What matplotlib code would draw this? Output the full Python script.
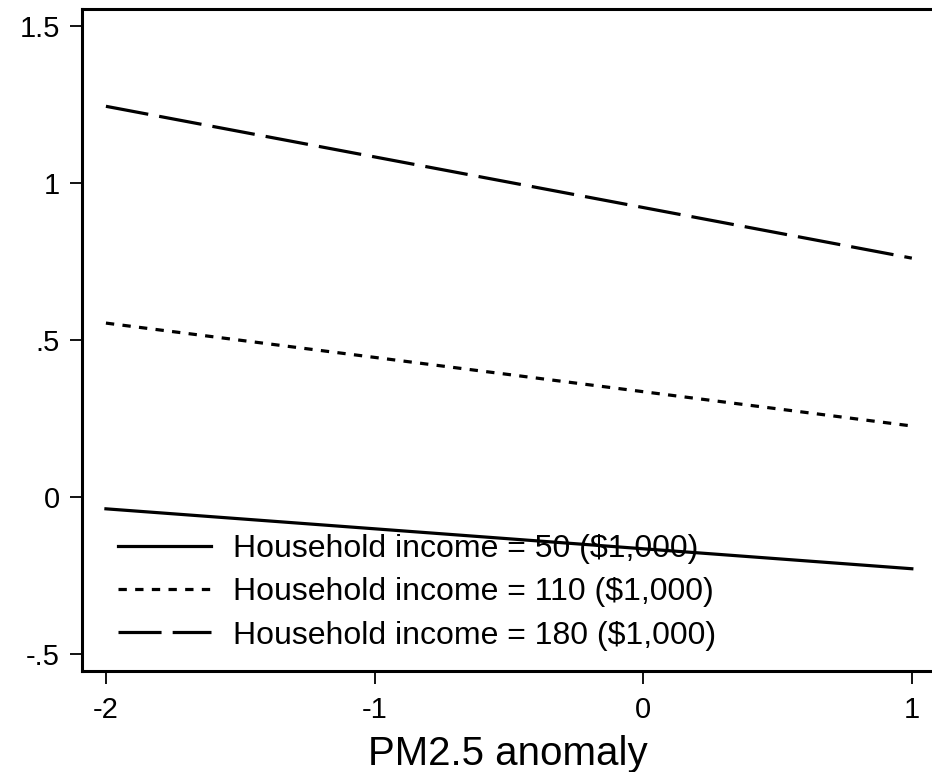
import matplotlib
matplotlib.use('Agg')
import matplotlib.pyplot as plt
import numpy as np

# Werte (Endpunkte der linearen Vorhersage)
pm25 = [-2, 1]
inc_50 = [-0.038, -0.229]
inc_110 = [0.554, 0.226]
inc_180 = [1.245, 0.761]
labels = ['Household income = 50 ($1,000)',
          'Household income = 110 ($1,000)',
          'Household income = 180 ($1,000)']

xticks = [-2, -1, 0, 1]
yticks = [-0.5, 0, 0.5, 1, 1.5]
yticklabels = ['-.5', '0', '.5', '1', '1.5']

plt.rcParams['font.family'] = ['Liberation Sans', 'DejaVu Sans']
plt.rcParams['lines.scale_dashes'] = False

fig = plt.figure(figsize=(9.32, 7.72), dpi=100)
ax = fig.add_axes([0.088, 0.1308, 0.914, 0.8575])

lw = 2.3
ax.plot(pm25, inc_50, color='black', lw=lw, linestyle='-', label=labels[0])
ax.plot(pm25, inc_110, color='black', lw=lw, linestyle=(0, (6, 6)), label=labels[1])
ax.plot(pm25, inc_180, color='black', lw=lw, linestyle=(0, (31, 8)), label=labels[2])

ax.set_xlim(-2.089, 1.082)
ax.set_ylim(-0.555, 1.555)
ax.set_xticks(xticks)
ax.set_xticklabels([str(t) for t in xticks])
ax.set_yticks(yticks)
ax.set_yticklabels(yticklabels)

for s in ax.spines.values():
    s.set_linewidth(2.2)
ax.spines['right'].set_visible(False)
ax.tick_params(axis='both', direction='out', length=9, width=1.3, labelsize=21, pad=7, colors='black')
ax.tick_params(axis='x', pad=9)

ax.set_xlabel('PM2.5 anomaly', fontsize=29, labelpad=8)

ax.legend(loc='lower left', bbox_to_anchor=(0.0423, 0.031), frameon=False,
          fontsize=23, handlelength=2.9, handletextpad=0.7, labelspacing=0.41,
          borderpad=0, borderaxespad=0)

fig.savefig('out.png', dpi=100)
